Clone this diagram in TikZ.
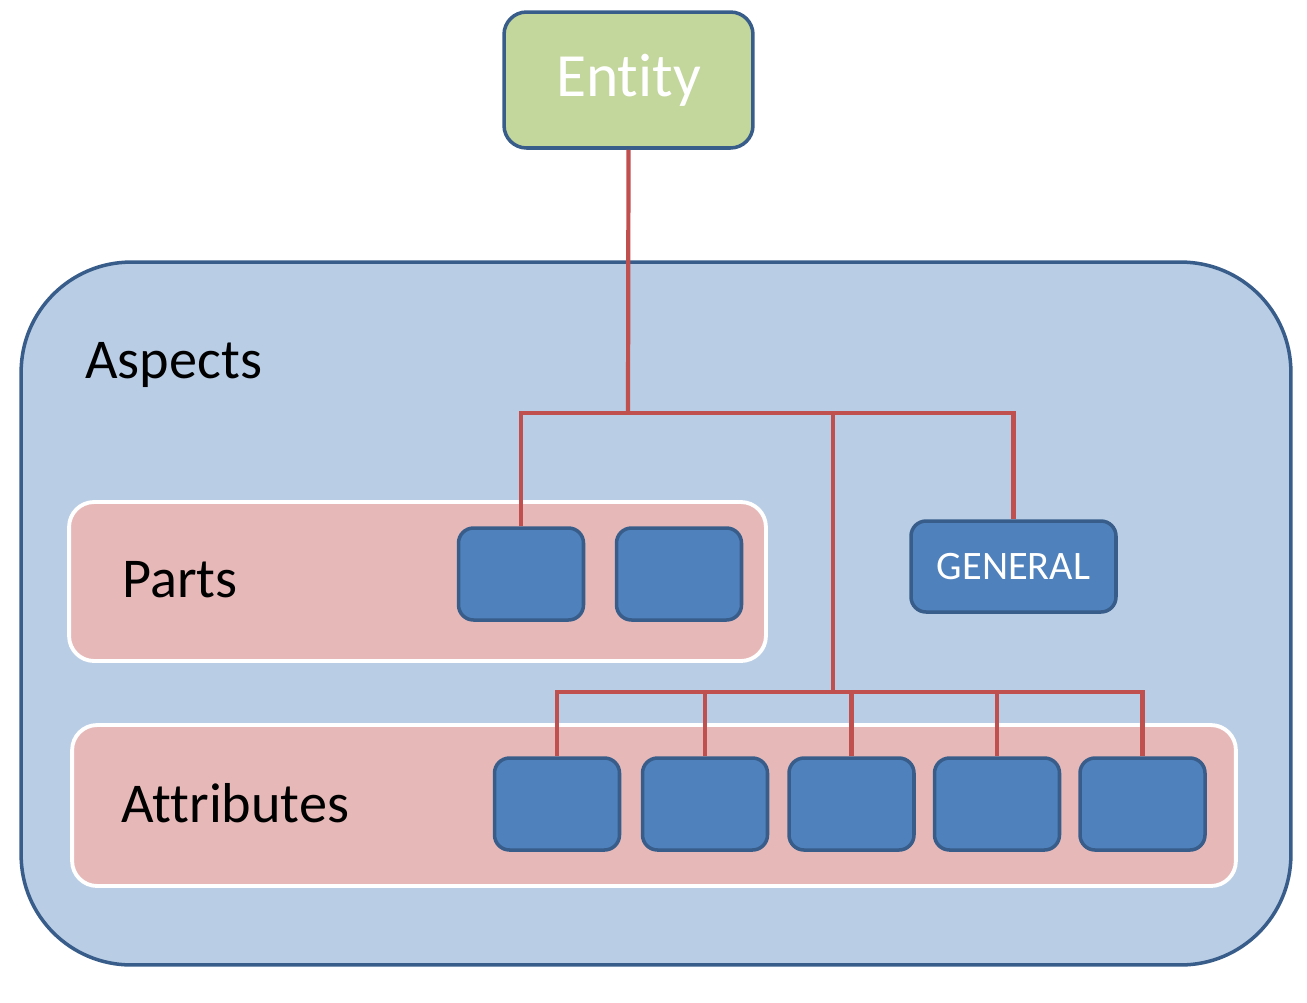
\documentclass[tikz,border=0pt]{standalone}
\usepackage{fontspec}
\setmainfont{Carlito}[Ligatures=NoCommon]
\usetikzlibrary{positioning}
\definecolor{entitygreen}{HTML}{C3D69B}
\definecolor{aspectblue}{HTML}{B9CDE5}
\definecolor{grouppink}{HTML}{E6B9B8}
\definecolor{itemblue}{HTML}{4F81BD}
\definecolor{edgeblue}{HTML}{385D8A}
\definecolor{linkred}{HTML}{C0504D}
\tikzset{
    entity/.style={
           rectangle,
           rounded corners=0.45cm,
           draw=edgeblue, line width=2pt,
           fill=entitygreen,
           minimum width=4.98cm, minimum height=2.72cm,
           text=white,
           font=\fontsize{35}{40}\selectfont,
           },
    area/.style={
           rectangle,
           rounded corners=2.2cm,
           draw=edgeblue, line width=2pt,
           fill=aspectblue,
           },
    group/.style={
           rectangle,
           rounded corners=0.5cm,
           draw=white, line width=2.2pt,
           fill=grouppink,
           },
    item/.style={
           rectangle,
           rounded corners=0.3cm,
           draw=edgeblue, line width=2pt,
           fill=itemblue,
           minimum width=2.5cm, minimum height=1.84cm,
           text=white,
           font=\fontsize{23}{27}\selectfont,
           },
    title/.style={
           inner sep=0pt,
           anchor=base west,
           font=\fontsize{32}{38}\selectfont,
           },
    link/.style={draw=linkred, line width=2.4pt},
}

\begin{document}
\begin{tikzpicture}[x=0.02cm,y=-0.02cm]
    \useasboundingbox (0,0) rectangle (1307,1002);

    \node[area,minimum width=25.4cm,minimum height=14.06cm] (aspects) at (656,613.5) {};
    \node[title] (aspectslabel) at (85,378) {Aspects};

    \node[group,minimum width=13.94cm,minimum height=3.18cm] (parts) at (417.5,581.5) {};
    \node[title] (partslabel) at (122,597) {Parts};

    \node[group,minimum width=23.28cm,minimum height=3.22cm] (attributes) at (654,805.5) {};
    \node[title] (attributeslabel) at (121,822) {Attributes};

    \node[entity] (entity) at (628.5,80) {\raisebox{-0.1cm}{Entity}};

    \coordinate (hub) at (628,413);
    \coordinate (split) at (833,413);
    \coordinate (attrhub) at (833,692);

    \node[item] (p1) at (521,574) {};
    \node[item] (p2) at (679,574) {};
    \node[item,minimum width=4.1cm,minimum height=1.82cm] (general) at (1013.5,566.5) {GENERAL};

    \foreach \x [count=\i] in {557,705,851.5,997,1142.5}
        \node[item] (a\i) at (\x,804) {};

    % tree links
    \draw[link] (entity.south) -- (hub);
    \draw[link] (p1.north) |- (hub) -| (general.north);
    \draw[link] (split) -- (attrhub);
    \foreach \i in {1,...,5}
        \draw[link] (attrhub) -| (a\i.north);

\end{tikzpicture}
\end{document}
